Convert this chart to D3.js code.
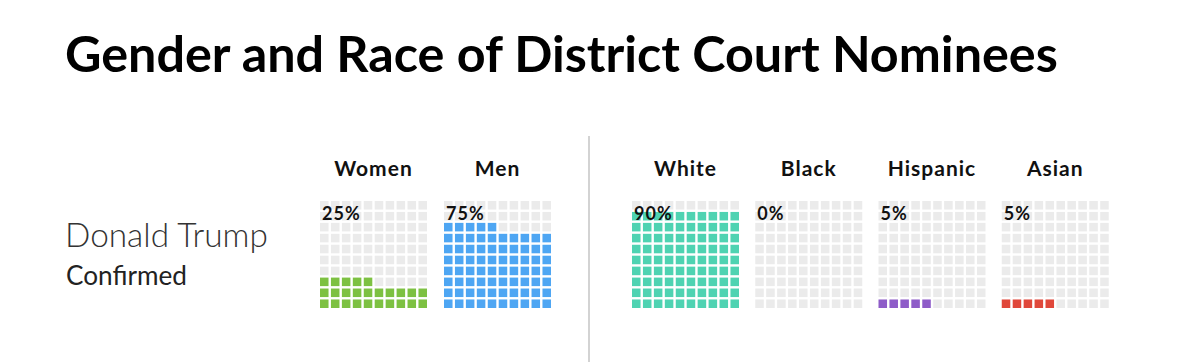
<!DOCTYPE html>
<html>
<head>
<meta charset="utf-8">
<script src="https://cdn.jsdelivr.net/npm/d3@7.9.0/dist/d3.min.js"></script>
<style>
  body { margin: 0; background: #fff; }
  svg { display: block; font-family: Lato, "Open Sans", sans-serif; }
</style>
</head>
<body>
<svg id="chart" width="1200" height="362"></svg>
<script>
// data
const genderGroups = ['Women', 'Men'];
const genderValues = [25, 75];
const genderColors = ['#7dc142', '#4ea6f3'];

const raceGroups = ['White', 'Black', 'Hispanic', 'Asian'];
const raceValues = [90, 0, 5, 5];
const raceColors = ['#4fd3b2', '#999999', '#8e5cc8', '#e0473a'];

const nominee = 'Donald Trump';
const status = 'Confirmed';

const svg = d3.select('#chart');

// shrink/grow a text node's font size until it spans the wanted width
function fitText(sel, width) {
  let size = parseFloat(sel.attr('font-size'));
  let w = sel.node().getComputedTextLength();
  sel.attr('font-size', size * width / w);
}

// title
let title = svg.append('text')
  .attr('x', 65).attr('y', 72)
  .attr('font-size', 40)
  .attr('font-weight', 700)
  .attr('fill', '#000')
  .text('Gender and Race of District Court Nominees');
fitText(title, 993);

// row label
let name = svg.append('text')
  .attr('x', 65).attr('y', 247)
  .attr('font-size', 30)
  .attr('font-weight', 300)
  .attr('fill', '#333')
  .text(nominee);
fitText(name, 203);

let conf = svg.append('text')
  .attr('x', 66).attr('y', 285)
  .attr('font-size', 22)
  .attr('font-weight', 400)
  .attr('fill', '#222')
  .text(status);
fitText(conf, 121);

// divider between gender and race
svg.append('line')
  .attr('x1', 589).attr('x2', 589)
  .attr('y1', 136).attr('y2', 362)
  .attr('stroke', '#d3d3d3')
  .attr('stroke-width', 2);

// waffle cell scales (10 x 10)
const cells = d3.range(10);
const col = d3.scaleBand().domain(cells).range([0, 107]).paddingInner(0.22);
const row = d3.scaleBand().domain(cells).range([107, 0]).paddingInner(0.22); // row 0 at bottom

const gx = d3.scaleBand().domain(genderGroups).range([320, 568]);
const rx = d3.scaleBand().domain(raceGroups).range([632, 1125]);

function drawWaffles(groups, values, colors, xScale) {
  groups.forEach((g, i) => {
    let wrap = svg.append('g')
      .attr('transform', `translate(${xScale(g)},201)`);

    let data = d3.range(100).map(k => ({ r: Math.floor(k / 10), c: k % 10, on: k < values[i] }));

    wrap.selectAll('rect')
      .data(data)
      .join('rect')
      .attr('x', d => col(d.c))
      .attr('y', d => row(d.r))
      .attr('width', col.bandwidth())
      .attr('height', row.bandwidth())
      .attr('fill', d => d.on ? colors[i] : '#ebebeb');

    // group heading
    svg.append('text')
      .attr('x', xScale(g) + 53.5)
      .attr('y', 176)
      .attr('text-anchor', 'middle')
      .attr('font-size', 21)
      .attr('letter-spacing', 1)
      .attr('font-weight', 700)
      .attr('fill', '#111')
      .text(g);

    // percent label on top-left of the grid
    wrap.append('text')
      .attr('x', 2).attr('y', 19)
      .attr('font-size', 18)
      .attr('letter-spacing', 1)
      .attr('font-weight', 700)
      .attr('fill', '#111')
      .text(values[i] + '%');
  });
}

drawWaffles(genderGroups, genderValues, genderColors, gx);
drawWaffles(raceGroups, raceValues, raceColors, rx);
</script>
</body>
</html>
